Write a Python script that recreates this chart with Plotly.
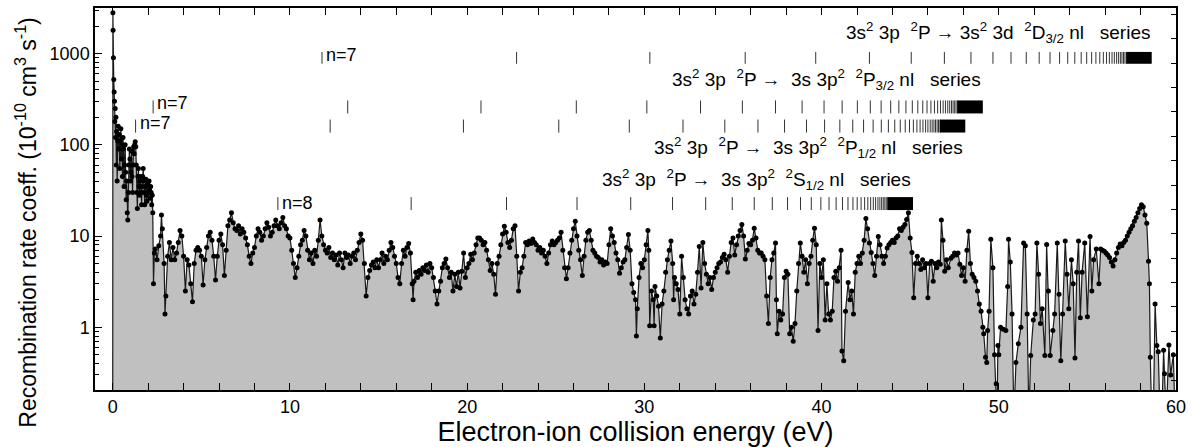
import plotly.graph_objects as go

energy_ev = [
    0.00, 0.01, 0.02, 0.04, 0.06, 0.08, 0.10, 0.12, 0.14, 0.16,
    0.18, 0.20, 0.22, 0.25, 0.28, 0.31, 0.34, 0.37, 0.40, 0.43,
    0.46, 0.49, 0.52, 0.55, 0.58, 0.61, 0.64, 0.67, 0.70, 0.73,
    0.76, 0.79, 0.82, 0.85, 0.88, 0.91, 0.94, 0.97, 1.00, 1.03,
    1.06, 1.09, 1.12, 1.15, 1.18, 1.21, 1.24, 1.27, 1.30, 1.33,
    1.36, 1.39, 1.42, 1.45, 1.48, 1.51, 1.54, 1.57, 1.60, 1.63,
    1.66, 1.69, 1.72, 1.75, 1.78, 1.81, 1.84, 1.87, 1.90, 1.93,
    1.96, 1.99, 2.02, 2.05, 2.08, 2.11, 2.14, 2.17, 2.20, 2.23,
    2.26, 2.30, 2.35, 2.40, 2.50, 2.60, 2.70, 2.75, 2.80, 2.90,
    2.95, 3.00, 3.10, 3.20, 3.30, 3.40, 3.50, 3.60, 3.70, 3.80,
    3.9, 4.0, 4.1, 4.2, 4.3, 4.4, 4.5, 4.6, 4.7, 4.8,
    4.9, 5.0, 5.1, 5.2, 5.3, 5.4, 5.5, 5.6, 5.7, 5.8,
    5.9, 6.0, 6.1, 6.2, 6.3, 6.4, 6.5, 6.6, 6.7, 6.8,
    6.9, 7.0, 7.1, 7.2, 7.3, 7.4, 7.5, 7.6, 7.7, 7.8,
    7.9, 8.0, 8.1, 8.2, 8.3, 8.4, 8.5, 8.6, 8.7, 8.8,
    8.9, 9.0, 9.1, 9.2, 9.3, 9.4, 9.5, 9.6, 9.7, 9.8,
    9.9, 10.0, 10.1, 10.2, 10.3, 10.4, 10.5, 10.6, 10.7, 10.8,
    10.9, 11.0, 11.1, 11.2, 11.3, 11.4, 11.5, 11.6, 11.7, 11.8,
    11.9, 12.0, 12.1, 12.2, 12.3, 12.4, 12.5, 12.6, 12.7, 12.8,
    12.9, 13.0, 13.1, 13.2, 13.3, 13.4, 13.5, 13.6, 13.7, 13.8,
    13.9, 14.0, 14.1, 14.2, 14.3, 14.4, 14.5, 14.6, 14.7, 14.8,
    14.9, 15.0, 15.1, 15.2, 15.3, 15.4, 15.5, 15.6, 15.7, 15.8,
    15.9, 16.0, 16.1, 16.2, 16.3, 16.4, 16.5, 16.6, 16.7, 16.8,
    16.9, 16.95, 17.0, 17.1, 17.2, 17.3, 17.4, 17.5, 17.6, 17.7,
    17.8, 17.9, 18.0, 18.1, 18.2, 18.3, 18.4, 18.5, 18.6, 18.7,
    18.8, 18.9, 19.0, 19.1, 19.2, 19.3, 19.4, 19.5, 19.6, 19.7,
    19.8, 19.9, 20.0, 20.1, 20.2, 20.3, 20.4, 20.5, 20.6, 20.7,
    20.8, 20.9, 21.0, 21.1, 21.2, 21.3, 21.4, 21.5, 21.6, 21.7,
    21.8, 21.9, 22.0, 22.1, 22.2, 22.3, 22.4, 22.5, 22.6, 22.7,
    22.8, 22.9, 23.0, 23.1, 23.2, 23.3, 23.4, 23.5, 23.6, 23.7,
    23.8, 23.9, 24.0, 24.1, 24.2, 24.3, 24.4, 24.5, 24.6, 24.7,
    24.8, 24.9, 25.0, 25.1, 25.2, 25.3, 25.4, 25.5, 25.6, 25.7,
    25.8, 25.9, 26.0, 26.1, 26.2, 26.3, 26.4, 26.5, 26.6, 26.7,
    26.8, 26.9, 27.0, 27.1, 27.2, 27.3, 27.4, 27.5, 27.6, 27.7,
    27.8, 27.9, 28.0, 28.1, 28.2, 28.3, 28.4, 28.5, 28.6, 28.7,
    28.8, 28.9, 29.0, 29.1, 29.2, 29.3, 29.4, 29.5, 29.55, 29.6,
    29.7, 29.8, 29.9, 30.0, 30.1, 30.2, 30.25, 30.3, 30.4, 30.5,
    30.55, 30.6, 30.7, 30.8, 30.9, 31.0, 31.1, 31.2, 31.3, 31.4,
    31.5, 31.6, 31.65, 31.7, 31.8, 31.9, 32.0, 32.1, 32.2, 32.3,
    32.4, 32.5, 32.6, 32.7, 32.8, 32.9, 33.0, 33.1, 33.2, 33.3,
    33.4, 33.5, 33.6, 33.7, 33.8, 33.9, 34.0, 34.1, 34.2, 34.3,
    34.4, 34.5, 34.6, 34.7, 34.8, 34.9, 35.0, 35.1, 35.2, 35.3,
    35.4, 35.5, 35.6, 35.7, 35.8, 35.9, 36.0, 36.1, 36.2, 36.3,
    36.4, 36.5, 36.6, 36.7, 36.8, 36.9, 37.0, 37.1, 37.2, 37.3,
    37.4, 37.45, 37.5, 37.6, 37.7, 37.8, 37.9, 38.0, 38.1, 38.2,
    38.3, 38.4, 38.5, 38.6, 38.7, 38.8, 38.9, 39.0, 39.1, 39.2,
    39.3, 39.4, 39.5, 39.6, 39.7, 39.8, 39.9, 40.0, 40.1, 40.2,
    40.3, 40.4, 40.5, 40.6, 40.7, 40.8, 40.9, 41.0, 41.1, 41.15,
    41.25, 41.35, 41.5, 41.6, 41.7, 41.8, 41.9, 42.0, 42.1, 42.2,
    42.3, 42.4, 42.5, 42.6, 42.7, 42.8, 42.9, 43.0, 43.1, 43.2,
    43.3, 43.4, 43.5, 43.6, 43.7, 43.8, 43.9, 44.0, 44.1, 44.2,
    44.3, 44.4, 44.5, 44.6, 44.7, 44.8, 44.9, 45.0, 45.1, 45.2,
    45.3, 45.4, 45.5, 45.6, 45.7, 45.8, 45.9, 46.0, 46.1, 46.2,
    46.3, 46.4, 46.5, 46.6, 46.7, 46.76, 46.85, 46.95, 47.05, 47.15,
    47.3, 47.4, 47.5, 47.6, 47.7, 47.8, 47.9, 48.0, 48.1, 48.2,
    48.3, 48.4, 48.5, 48.6, 48.7, 48.8, 48.9, 49.0, 49.1, 49.15,
    49.25, 49.32, 49.37, 49.45, 49.55, 49.67, 49.76, 49.85, 49.9, 49.95,
    50.0, 50.1, 50.25, 50.4, 50.5, 50.55, 50.65, 50.75, 50.85, 50.97,
    51.1, 51.25, 51.4, 51.5, 51.6, 51.7, 51.8, 51.95, 52.05, 52.15,
    52.25, 52.35, 52.45, 52.6, 52.7, 52.8, 52.9, 53.05, 53.15, 53.3,
    53.4, 53.5, 53.6, 53.75, 53.85, 53.95, 54.1, 54.2, 54.3, 54.4,
    54.5, 54.6, 54.7, 54.85, 55.0, 55.15, 55.25, 55.35, 55.5, 55.65,
    55.75, 55.85, 55.95, 56.05, 56.15, 56.25, 56.35, 56.45, 56.55, 56.65,
    56.75, 56.85, 56.95, 57.05, 57.15, 57.25, 57.35, 57.45, 57.55, 57.65,
    57.75, 57.85, 57.95, 58.05, 58.15, 58.25, 58.35, 58.45, 58.5, 58.55,
    58.63, 58.72, 58.82, 58.92, 59.0, 59.1, 59.2, 59.3, 59.35, 59.45,
    59.6, 59.7, 59.85, 59.95,
]

rate_coeff = [
    0.1, 2800, 1800, 900, 520, 380, 300, 180, 250, 120,
    200, 60, 140, 40, 110, 160, 90, 130, 55, 110,
    150, 70, 100, 45, 120, 90, 35, 60, 100, 50,
    25, 40, 18, 15, 30, 60, 90, 70, 40, 50,
    85, 45, 30, 60, 95, 80, 100, 108, 95, 60,
    30, 20, 45, 55, 35, 28, 40, 45, 30, 22,
    35, 45, 55, 40, 30, 22, 35, 42, 28, 24,
    38, 30, 36, 40, 32, 26, 35, 30, 22, 28,
    18, 3.0, 6.5, 7.2, 5.5, 7.8, 10, 17, 12, 5,
    1.4, 2.2, 6, 8.5, 5.5, 7.5, 5.5, 6.5, 8.5, 11.5,
    10, 6, 2.5, 5.5, 4.8, 3, 1.9, 5, 7, 7.5,
    7, 6, 2.9, 5.5, 7.5, 10, 11, 9, 6, 3.3,
    6, 9, 10.5, 8, 3.7, 7, 13, 15, 18, 14,
    12, 11.5, 13, 10.5, 12, 11, 9.5, 8, 6, 5,
    6.5, 7.5, 10, 12, 11, 9, 10, 12, 14, 12.5,
    10, 11, 13, 15, 13, 12, 14, 16, 13, 12,
    10, 9.5, 7, 5, 3.5, 4.5, 6, 8, 9, 11.5,
    10, 7, 5.5, 6.5, 5, 7, 6, 9, 15, 10,
    8, 7, 6.5, 7.5, 5.8, 6.5, 5.5, 6.2, 4.8, 6.5,
    5.5, 4.5, 6.5, 5.8, 6.2, 5, 6, 6.5, 5.5, 7,
    8.5, 10.5, 9, 5, 2.2, 3.5, 4.2, 4.8, 5.2, 4.5,
    5.5, 4.5, 5.5, 6.5, 5, 6, 5.5, 7, 8.5, 7.5,
    6, 5, 3.5, 3, 5, 7, 6, 7.5, 8.3, 6.5,
    3, 2, 3.2, 4, 3.5, 4.2, 3.8, 4.5, 4.2, 4.8,
    4, 5, 4.5, 3.5, 2.5, 1.8, 2.5, 3.2, 4.5, 5,
    5.6, 4.5, 3.5, 4, 2.5, 3.8, 2.8, 4, 2.7, 4.1,
    6.5, 3.5, 4.5, 5, 6.3, 5.5, 6.5, 8, 9.5, 9.5,
    9, 8, 8.5, 7, 5.5, 4.2, 5, 3.8, 2.3, 5,
    6, 8, 10.5, 12.8, 11, 8.5, 7.5, 9, 12, 13,
    6, 2.5, 4, 4.5, 6, 8.5, 8, 8.8, 8.3, 9.3,
    8.5, 8, 7, 7.5, 6.5, 7, 6, 5, 6.5, 8,
    8.8, 8, 8.5, 9, 9.5, 11, 7, 4.5, 3.4, 4.5,
    6.5, 9, 12, 14.5, 10, 7, 5.5, 3.7, 6, 9,
    11, 11.5, 9, 7, 6.5, 6, 5.8, 5.2, 5.5, 4.8,
    5.2, 5, 8, 12, 10, 8.5, 6.5, 5.5, 3.9, 4.5,
    5.2, 5.5, 7.5, 10.4, 7, 3, 2.4, 2, 0.8, 1.6,
    3.5, 5, 4.5, 5.5, 8, 11.5, 7, 1.04, 2.5, 2,
    1.04, 2.8, 2.2, 1.7, 0.76, 1.8, 2.5, 4, 5.5, 7,
    8.8, 5, 2, 3.5, 3, 2.6, 1.4, 6, 3.5, 2,
    1.6, 1.4, 2.2, 2.5, 1.8, 2.3, 4, 7.7, 2.7, 8.5,
    5, 3.8, 3, 3.5, 2.6, 3.5, 4, 4.5, 5, 5.2,
    5.8, 6.3, 5.5, 4, 6, 8.5, 9.5, 6.2, 8, 10,
    11.5, 13.4, 10, 5.6, 7, 8.3, 8, 9, 12.2, 9.5,
    7, 6.5, 6.5, 6, 5.5, 2.2, 1.1, 3.5, 5.5, 6.5,
    8.4, 2, 0.85, 1.5, 1.2, 1.4, 3.5, 4.1, 3.8, 0.85,
    1, 0.7, 1.1, 2.5, 5, 8.4, 6, 4, 5.5, 3,
    5, 6, 9, 12.2, 8, 0.92, 5, 3.5, 5.5, 1.2,
    3, 1.4, 1.2, 1.5, 3.5, 4.1, 3.2, 4.5, 7, 0.55,
    0.43, 1.5, 3.1, 2, 2.5, 1.4, 4, 5, 6, 5,
    6.5, 9, 15.6, 12, 8.4, 6.6, 5, 3.7, 6, 9.9,
    8, 6, 5, 6, 7.4, 8, 8.5, 9, 8.5, 9.5,
    10, 12, 11.5, 12.5, 13.4, 15.2, 18, 9.5, 6.6, 2.1,
    5, 6, 5, 4.3, 5.5, 4.5, 5, 2.1, 5, 5.3,
    3.2, 5, 4.5, 5.2, 4.9, 15, 9, 4.1, 5.5, 4.5,
    5.7, 6, 6.5, 6.2, 6.5, 4.9, 3.7, 4.5, 3.2, 7,
    11.3, 5, 3.8, 3.5, 3.2, 2.5, 1.8, 1.5, 1.0, 0.85,
    0.47, 0.41, 0.92, 1.5, 9.2, 4.5, 0.5, 0.24, 0.1, 0.63,
    0.5, 1.0, 0.95, 0.92, 2.8, 9.2, 5.2, 1.4, 0.1, 0.41,
    0.66, 1.0, 8.4, 7.8, 1.4, 0.1, 0.49, 1.2, 1.4, 8.4,
    3.8, 1.1, 1.6, 0.49, 8.1, 2.5, 0.49, 0.92, 1.4, 8.4,
    2.3, 0.43, 1.4, 8.8, 3.8, 1.6, 5.5, 3, 0.46, 4,
    8.8, 1.27, 4, 8.4, 1.3, 9.9, 2.5, 5.5, 7.2, 3.0,
    7.2, 7.0, 6.8, 6.5, 6.2, 5.8, 5.2, 4.7, 5.5, 6.5,
    7.5, 8.2, 7.8, 8.5, 9, 10, 11, 12, 13, 14.5,
    16, 18, 20, 22, 21, 17, 13.8, 5.3, 3, 0.47,
    0.1, 0.1, 1.8, 0.63, 0.54, 0.1, 0.1, 0.56, 0.31, 0.1,
    0.64, 0.3, 0.5, 0.1,
]

# ---------------- Rydberg series level positions (eV) ----------------
series_2d32 = [11.81, 22.79, 30.31, 35.69, 39.67, 42.70, 45.06, 46.93, 48.43, 49.67,
               50.69, 51.55, 52.28, 52.89, 53.43, 53.89, 54.29, 54.65, 54.96, 55.24,
               55.48, 55.70, 55.90, 56.08, 56.24, 56.39, 56.52, 56.65, 56.76, 56.86,
               56.95, 57.04, 57.12, 57.20]
series_2p32 = [2.28, 13.26, 20.78, 26.16, 30.14, 33.17, 35.53, 37.40, 38.90, 40.14,
               41.16, 42.02, 42.75, 43.36, 43.90, 44.36, 44.76, 45.12, 45.43, 45.71,
               45.95, 46.17, 46.37, 46.55, 46.71, 46.86, 46.99, 47.12, 47.23, 47.33,
               47.42, 47.51, 47.59, 47.67]
series_2p12 = [1.29, 12.27, 19.79, 25.17, 29.15, 32.18, 34.54, 36.41, 37.91, 39.15,
               40.17, 41.03, 41.76, 42.37, 42.91, 43.37, 43.77, 44.13, 44.44, 44.72,
               44.96, 45.18, 45.38, 45.56, 45.72, 45.87, 46.00, 46.13, 46.24, 46.34,
               46.43, 46.52, 46.60, 46.68]
series_2s12 = [9.32, 16.84, 22.22, 26.20, 29.23, 31.59, 33.46, 34.96, 36.20, 37.22,
               38.08, 38.81, 39.42, 39.96, 40.42, 40.82, 41.18, 41.49, 41.77, 42.01,
               42.23, 42.43, 42.61, 42.77, 42.92, 43.05, 43.18, 43.29, 43.39, 43.48,
               43.57, 43.65, 43.73]
series_limits = [58.63, 49.10, 48.11, 45.16]
series_first_n = ["n=7", "n=7", "n=7", "n=8"]

NB = "\u00a0"
series_labels = [
    f"3s<sup>2</sup> 3p{NB}{NB}<sup>2</sup>P → 3s<sup>2</sup> 3d{NB}{NB}<sup>2</sup>D<sub>3/2</sub> nl{NB}{NB}{NB}series",
    f"3s<sup>2</sup> 3p{NB}{NB}<sup>2</sup>P →{NB}{NB}3s 3p<sup>2</sup>{NB}{NB}<sup>2</sup>P<sub>3/2</sub> nl{NB}{NB}{NB}series",
    f"3s<sup>2</sup> 3p{NB}{NB}<sup>2</sup>P →{NB}{NB}3s 3p<sup>2</sup>{NB}{NB}<sup>2</sup>P<sub>1/2</sub> nl{NB}{NB}{NB}series",
    f"3s<sup>2</sup> 3p{NB}{NB}<sup>2</sup>P →{NB}{NB}3s 3p<sup>2</sup>{NB}{NB}<sup>2</sup>S<sub>1/2</sub> nl{NB}{NB}{NB}series",
]
y_title = "Recombination rate coeff. (10<sup>-10</sup> cm<sup>3</sup> s<sup>-1</sup>)"
x_title = "Electron-ion collision energy (eV)"

assert len(energy_ev) == len(rate_coeff)

# ---------------- styling / layout constants ----------------
FONT = "Liberation Sans, Arial, Helvetica, sans-serif"
row_tick_span = [(0.854, 0.885), (0.724, 0.758), (0.674, 0.708), (0.471, 0.505)]
row_label_y = [0.935, 0.812, 0.636, 0.552]
row_n_y = [0.878, 0.752, 0.700, 0.490]

fig = go.Figure()

# baseline for grey fill
fig.add_trace(go.Scatter(
    x=[energy_ev[0], energy_ev[-1]], y=[1e-3, 1e-3], mode="lines",
    line=dict(width=0, color="rgba(0,0,0,0)"), showlegend=False, hoverinfo="skip"))

fig.add_trace(go.Scatter(
    x=energy_ev, y=rate_coeff, mode="lines+markers",
    line=dict(color="#1a1a1a", width=1.2),
    marker=dict(size=5, color="black"),
    fill="tonexty", fillcolor="#c0c0c0", showlegend=False))

# dummy trace so the right-hand linear axis is drawn
fig.add_trace(go.Scatter(x=[None], y=[None], yaxis="y2", showlegend=False))

shapes = []
annotations = []
all_series = [series_2d32, series_2p32, series_2p12, series_2s12]
for i, levels in enumerate(all_series):
    y0, y1 = row_tick_span[i]
    for e in levels:
        shapes.append(dict(type="line", xref="x", yref="paper", x0=e, x1=e, y0=y0, y1=y1,
                           line=dict(color="#333333", width=1)))
    shapes.append(dict(type="rect", xref="x", yref="paper", x0=levels[-1], x1=series_limits[i],
                       y0=y0, y1=y1, fillcolor="black", line=dict(width=0)))
    annotations.append(dict(x=levels[0], y=row_n_y[i], xref="x", yref="paper",
                            text=series_first_n[i], showarrow=False, xanchor="left",
                            yanchor="middle", xshift=2,
                            font=dict(family=FONT, size=18, color="black")))
    annotations.append(dict(x=series_limits[i], y=row_label_y[i], xref="x", yref="paper",
                            text=series_labels[i], showarrow=False, xanchor="right",
                            yanchor="middle",
                            font=dict(family=FONT, size=19, color="black")))

# y-axis title as a rotated annotation (centred like the reference)
annotations.append(dict(x=-0.0638, y=0.438, xref="paper", yref="paper", text=y_title,
                        textangle=-90, showarrow=False, xanchor="center", yanchor="middle",
                        font=dict(family=FONT, size=23, color="black")))

minor_y = [v * m for m in (0.1, 1, 10, 100, 1000) for v in range(2, 10)]
minor_y = [v for v in minor_y if 0.2 <= v <= 3200]

fig.update_layout(
    width=1192, height=447,
    margin=dict(l=95, r=16, t=6, b=57),
    paper_bgcolor="white", plot_bgcolor="white",
    font=dict(family=FONT, size=18, color="black"),
    shapes=shapes, annotations=annotations,
    xaxis=dict(
        range=[-1, 60], tickvals=[0, 10, 20, 30, 40, 50, 60],
        ticks="inside", ticklen=7, tickwidth=1.2, tickcolor="black",
        minor=dict(dtick=2, tick0=0, ticks="inside", ticklen=4, tickwidth=1.2, tickcolor="black"),
        showline=True, linecolor="black", linewidth=1.5, mirror="allticks",
        showgrid=False, zeroline=False,
        tickfont=dict(family=FONT, size=18),
        title=dict(text=x_title, font=dict(family=FONT, size=27), standoff=2),
    ),
    yaxis=dict(
        type="log", range=[-0.688, 3.50],
        tickvals=[1, 10, 100, 1000], ticktext=["1", "10", "100", "1000"],
        ticks="inside", ticklen=7, tickwidth=1.2, tickcolor="black",
        minor=dict(tickvals=minor_y, ticks="inside", ticklen=4, tickwidth=1, tickcolor="black"),
        showline=True, linecolor="black", linewidth=1.5, mirror=True,
        showgrid=False, zeroline=False,
        tickfont=dict(family=FONT, size=18),
    ),
    yaxis2=dict(
        overlaying="y", side="right", range=[-0.408, 15.26], dtick=1, tick0=0,
        ticks="inside", ticklen=5, tickwidth=1.2, tickcolor="black",
        showticklabels=False, showgrid=False, zeroline=False, showline=False,
    ),
)

fig.write_html("out.html", config={"displayModeBar": False},
               post_script="document.body.style.margin='0';document.body.style.padding='0';")
